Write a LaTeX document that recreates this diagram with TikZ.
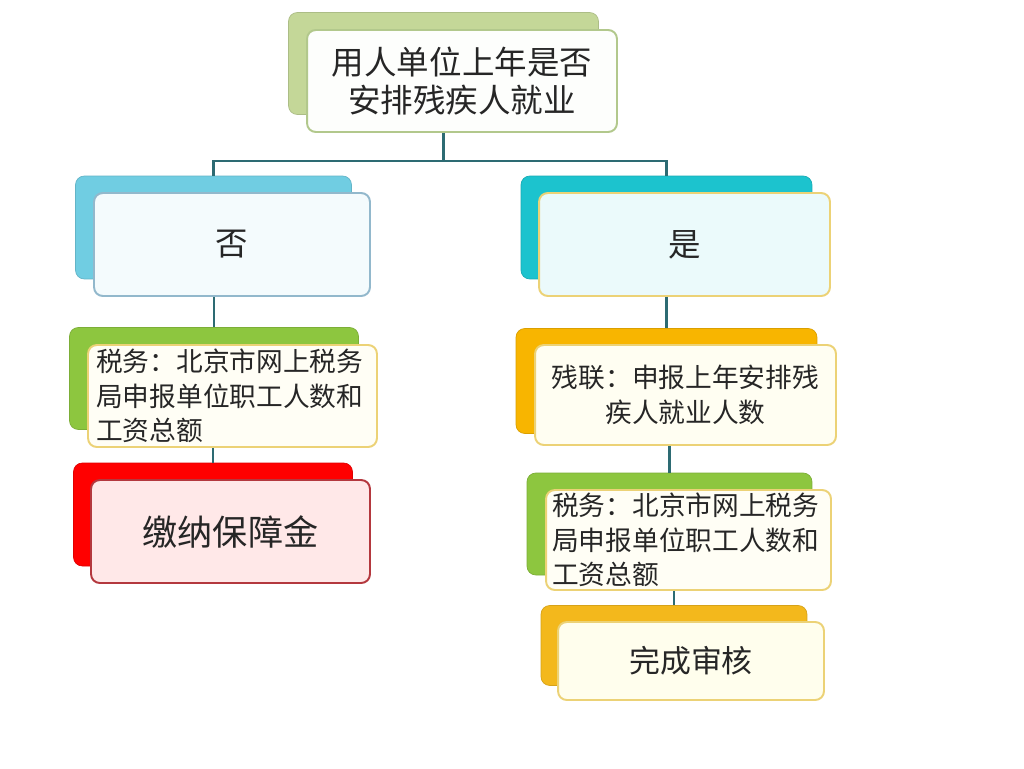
\documentclass[tikz,border=0pt]{standalone}
\usepackage{fontspec}
\setmainfont{Noto Sans CJK SC}
\usepackage{xcolor}
\definecolor{verdeO}{RGB}{196,215,152}
\definecolor{verdeB}{RGB}{178,200,140}
\definecolor{azulC}{RGB}{112,205,226}
\definecolor{azulB}{RGB}{146,184,204}
\definecolor{ciano}{RGB}{28,195,206}
\definecolor{verdeG}{RGB}{141,198,63}
\definecolor{vermelho}{RGB}{255,0,0}
\definecolor{vermB}{RGB}{180,56,62}
\definecolor{laranja}{RGB}{248,181,0}
\definecolor{ouro}{RGB}{243,184,28}
\definecolor{amareloB}{RGB}{236,210,118}
\definecolor{linhaC}{RGB}{45,107,115}
\usetikzlibrary{positioning,calc}

\begin{document}
\begin{tikzpicture}[x=0.02cm,y=-0.02cm,
    tam/.style 2 args={minimum width=#1,minimum height=#2,inner sep=0pt},
    fundo/.style={fill=#1,draw=#1!88!black,rounded corners=5pt,line width=0.4pt},
    caixa/.style 2 args={fill=#1,draw=#2,rounded corners=5pt,line width=1.1pt,
      text=black!85,align=center},
    grande/.style={font=\fontsize{18.5}{21.6}\selectfont},
    medio/.style={font=\fontsize{15.2}{19.6}\selectfont},
    linha/.style={draw=linhaC,line width=1.2pt}
    ]
    \useasboundingbox[fill=white] (0,0) rectangle (1024,768);

    % fundos
    \node[fundo=verdeO,  tam={6.2cm}{2.04cm}]  (topo_b) at (443.5,63.5) {};
    \node[fundo=azulC,   tam={5.52cm}{2.06cm}] (nao_b)  at (213.5,227.5) {};
    \node[fundo=ciano,   tam={5.82cm}{2.06cm}] (sim_b)  at (666.5,227.5) {};
    \node[fundo=verdeG,  tam={5.78cm}{2.04cm}] (sl_b)   at (214,378.5) {};
    \node[fundo=vermelho,tam={5.58cm}{2.06cm}] (jn_b)   at (213,514.5) {};
    \node[fundo=laranja, tam={6.02cm}{2.1cm}]  (cl_b)   at (666.5,381) {};
    \node[fundo=verdeG,  tam={5.7cm}{2.04cm}]  (sr_b)   at (669.5,524) {};
    \node[fundo=ouro,    tam={5.32cm}{1.6cm}]  (wc_b)   at (674,645.5) {};

    % caixas
    \node[caixa={white!97!verdeO}{verdeB}, tam={6.2cm}{2.04cm}, grande]
      (topo) at ($(topo_b)+(18.5,17.5)$) {用人单位上年是否\\安排残疾人就业};
    \node[caixa={azulC!8}{azulB}, tam={5.52cm}{2.06cm}, grande]
      (nao) at ($(nao_b)+(18.5,17)$) {否};
    \node[caixa={ciano!9}{amareloB}, tam={5.82cm}{2.06cm}, grande]
      (sim) at ($(sim_b)+(18,17)$) {是};
    \node[caixa={yellow!4}{amareloB}, tam={5.78cm}{2.04cm}, medio,
      align=left, text width=5.45cm]
      (sl) at ($(sl_b)+(18.5,17.5)$) {税务：北京市网上税务\\局申报单位职工人数和\\工资总额};
    \node[caixa={red!9}{vermB}, tam={5.58cm}{2.06cm},
      font=\fontsize{20}{24}\selectfont]
      (jn) at ($(jn_b)+(17.5,17)$) {缴纳保障金};
    \node[caixa={yellow!5}{amareloB}, tam={6.02cm}{2.0cm}, medio]
      (cl) at ($(cl_b)+(19,14)$) {残联：申报上年安排残\\疾人就业人数};
    \node[caixa={yellow!4}{amareloB}, tam={5.7cm}{2.0cm}, medio,
      align=left, text width=5.45cm]
      (sr) at ($(sr_b)+(19,16)$) {税务：北京市网上税务\\局申报单位职工人数和\\工资总额};
    \node[caixa={yellow!7}{amareloB}, tam={5.32cm}{1.56cm},
      font=\fontsize{17.6}{21}\selectfont]
      (wc) at ($(wc_b)+(17,15.5)$) {完成审核};

    % ligacoes
    \draw[linha] (topo.south -| topo_b.north) -- ++(0,28) coordinate (ramo);
    \draw[linha] (nao_b.north) |- (ramo) -| (sim_b.north);
    \draw[linha] (nao.south -| sl_b.north) -- (sl_b.north);
    \draw[linha] (sl.south -| jn_b.north) -- (jn_b.north);
    \draw[linha] (sim.south -| cl_b.north) -- (cl_b.north);
    \draw[linha] (cl.south -| sr_b.north) -- (sr_b.north);
    \draw[linha] (sr.south -| wc_b.north) -- (wc_b.north);
  \end{tikzpicture}
\end{document}
